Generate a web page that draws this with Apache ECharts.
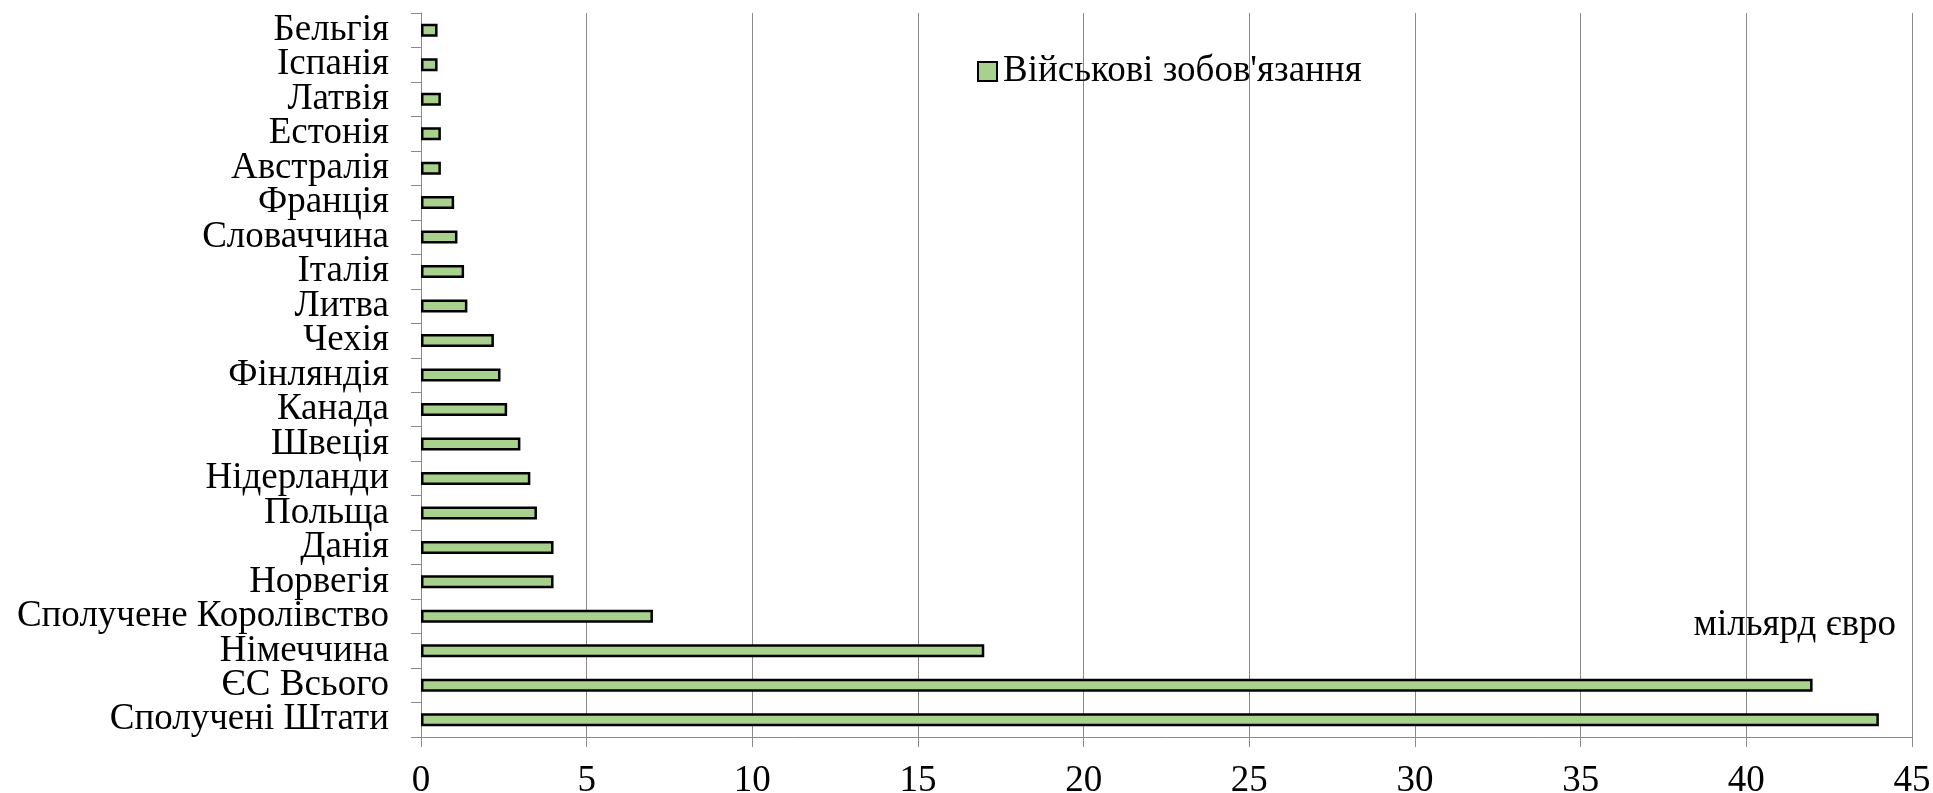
<!DOCTYPE html>
<html>
<head>
<meta charset="utf-8">
<title>Військові зобов'язання</title>
<script src="https://cdn.jsdelivr.net/npm/echarts@6/dist/echarts.min.js"></script>
<style>
  html, body { margin: 0; padding: 0; background: #ffffff; }
  #chart { width: 1933px; height: 793px; }
</style>
</head>
<body>
<div id="chart"></div>
<script>
// Countries, listed top to bottom
const categories = [
  'Бельгія', 'Іспанія', 'Латвія', 'Естонія', 'Австралія', 'Франція',
  'Словаччина', 'Італія', 'Литва', 'Чехія', 'Фінляндія', 'Канада',
  'Швеція', 'Нідерланди', 'Польща', 'Данія', 'Норвегія',
  'Сполучене Королівство', 'Німеччина', 'ЄС Всього', 'Сполучені Штати'
];

// Military commitments, billion euro
const commitments = [
  0.5, 0.5, 0.6, 0.6, 0.6, 1.0,
  1.1, 1.3, 1.4, 2.2, 2.4, 2.6,
  3.0, 3.3, 3.5, 4.0, 4.0,
  7.0, 17.0, 42.0, 44.0
];

const seriesName = "Військові зобов'язання";
const unitLabel = 'мільярд євро';

const FONT = "'Liberation Serif', 'Times New Roman', serif";
const GRID_COLOR = '#8a8a8a';
const BAR_COLOR = '#a9d18e';

const chart = echarts.init(document.getElementById('chart'), null, { renderer: 'canvas' });

chart.setOption({
  animation: false,
  backgroundColor: '#ffffff',
  textStyle: { fontFamily: FONT, color: '#000' },
  // fixed plot rectangle; the tick labels may run past the canvas edge
  grid: { left: 421, right: 21, top: 13, bottom: 56, containLabel: false, outerBoundsMode: 'none' },
  legend: {
    data: [seriesName],
    left: 972,
    top: 48,
    icon: 'rect',
    itemWidth: 19,
    itemHeight: 19,
    itemGap: 10,
    itemStyle: { color: BAR_COLOR, borderColor: '#000', borderWidth: 2 },
    textStyle: { fontFamily: FONT, fontSize: 37, color: '#000', padding: [0, 0, 0, 1], lineHeight: 37 }
  },
  xAxis: {
    type: 'value',
    min: 0,
    max: 45,
    interval: 5,
    axisLine: { show: true, lineStyle: { color: GRID_COLOR, width: 1 } },
    axisTick: { show: true, length: 10, lineStyle: { color: GRID_COLOR } },
    splitLine: { show: true, lineStyle: { color: GRID_COLOR, width: 1 } },
    axisLabel: { fontFamily: FONT, fontSize: 37, color: '#000', margin: 26 }
  },
  yAxis: {
    type: 'category',
    data: categories,
    inverse: true,
    axisLine: { show: true, lineStyle: { color: GRID_COLOR, width: 1 } },
    axisTick: { show: true, length: 10, lineStyle: { color: GRID_COLOR } },
    axisLabel: { fontFamily: FONT, fontSize: 37, color: '#000', margin: 32, interval: 0 }
  },
  series: [{
    name: seriesName,
    type: 'bar',
    data: commitments,
    barWidth: 13,
    itemStyle: { color: BAR_COLOR, borderColor: '#000', borderWidth: 2.5 }
  }],
  graphic: [{
    type: 'text',
    right: 37,
    top: 607,
    style: {
      text: unitLabel,
      font: '37px ' + FONT,
      fill: '#000'
    }
  }]
});
</script>
</body>
</html>
